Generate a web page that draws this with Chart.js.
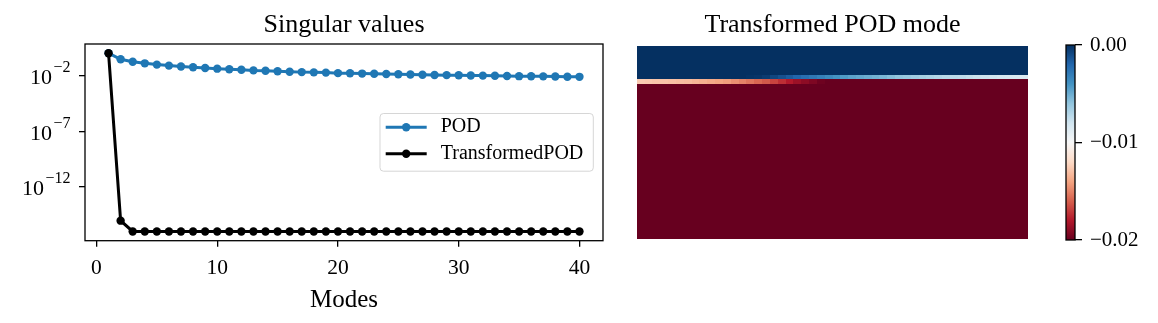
<!DOCTYPE html>
<html><head><meta charset="utf-8">
<script src="https://cdn.jsdelivr.net/npm/chart.js@4.4.1/dist/chart.umd.min.js"></script>
<style>
html,body{margin:0;padding:0;background:#fff;}
#wrap{position:relative;width:1158px;height:323px;overflow:hidden;background:#fff;}
.c{position:absolute;top:0;}
</style></head><body>
<div id="wrap">
<div class="c" style="left:0px;"><canvas id="sv" width="620" height="323"></canvas></div>
<div class="c" style="left:620px;"><canvas id="hm" width="420" height="323"></canvas></div>
<div class="c" style="left:1040px;"><canvas id="cb" width="118" height="323"></canvas></div>
</div>
<script>
// ---------------- data ----------------
const modes = [1,2,3,4,5,6,7,8,9,10,11,12,13,14,15,16,17,18,19,20,21,22,23,24,25,26,27,28,29,30,31,32,33,34,35,36,37,38,39,40];
const podValues = [1.07,0.30,0.18,0.13,0.100,0.081,0.068,0.058,0.049,0.043,0.038,0.034,0.030,0.028,0.025,0.023,0.021,0.020,0.019,0.017,
                   0.0166,0.0155,0.0148,0.0141,0.0135,0.0129,0.0123,0.0117,0.0112,0.0110,0.0105,0.0102,0.0098,0.0095,0.0091,0.0089,0.0087,0.0085,0.0081,0.0079];
const transformedValues = [1.07,8.7e-16,9.3e-17,9.3e-17,9.3e-17,9.3e-17,9.3e-17,9.3e-17,9.3e-17,9.3e-17,9.3e-17,9.3e-17,9.3e-17,9.3e-17,9.3e-17,9.3e-17,9.3e-17,9.3e-17,9.3e-17,9.3e-17,
                   9.3e-17,9.3e-17,9.3e-17,9.3e-17,9.3e-17,9.3e-17,9.3e-17,9.3e-17,9.3e-17,9.3e-17,9.3e-17,9.3e-17,9.3e-17,9.3e-17,9.3e-17,9.3e-17,9.3e-17,9.3e-17,9.3e-17,9.3e-17];
const xTickValues = [0,10,20,30,40];
const yTickValues = [1e-2,1e-7,1e-12];
const seriesLabels = ['POD','TransformedPOD'];
const leftTitle = 'Singular values';
const xAxisLabel = 'Modes';

// transformed POD mode field: mesh over x in [0,2], y in [0,1]
const meshX = [0,2];
const meshNx = 50;
const meshYEdges = [0,0.805,0.829,0.850,1.0];
const layerBottom = -0.020;
const layerRow2 = [-0.0126,-0.0127,-0.0128,-0.0129,-0.0130,-0.0131,-0.0132,-0.0134,-0.0136,-0.0138,
                   -0.0140,-0.0142,-0.0146,-0.0150,-0.0154,-0.0158,-0.0162,-0.0168,-0.0174,-0.0180,
                   -0.0186,-0.0190,-0.0194,-0.0198,-0.020,-0.020,-0.020,-0.020,-0.020,-0.020,
                   -0.020,-0.020,-0.020,-0.020,-0.020,-0.020,-0.020,-0.020,-0.020,-0.020,
                   -0.020,-0.020,-0.020,-0.020,-0.020,-0.020,-0.020,-0.020,-0.020,-0.020];
const layerRow1 = [0,0,0,0,0,0,0,0,0,0,0,0,0,0,
                   -0.0001,-0.0002,-0.0004,-0.0008,-0.0012,-0.0016,-0.0020,-0.0024,-0.0028,-0.0032,
                   -0.0036,-0.0040,-0.0043,-0.0046,-0.0048,-0.0050,-0.0052,-0.0054,-0.0057,-0.0060,
                   -0.0062,-0.0064,-0.0066,-0.0068,-0.0070,-0.0072,-0.0073,-0.0074,-0.0076,-0.0078,
                   -0.0079,-0.0080,-0.0082,-0.0083,-0.0084,-0.0085];
const layerTop = 0.000;
const fieldMin = -0.02, fieldMax = 0.0;
const cbTickValues = [-0.02,-0.01,0.0];
const rightTitle = 'Transformed POD mode';

// ---------------- style ----------------
const FONT = "'Liberation Serif','DejaVu Serif',serif";
const LINE_W = 3;
const MARK_R = 4.2;
const RDBU = [[103,0,31],[178,24,43],[214,96,77],[244,165,130],[253,219,199],[247,247,247],
              [209,229,240],[146,197,222],[67,147,195],[33,102,172],[5,48,97]];
function rdbu(t){
  t = Math.max(0, Math.min(1, t));
  const p = t*10, i = Math.min(9, Math.floor(p)), f = p - i;
  const a = RDBU[i], b = RDBU[i+1];
  return 'rgb(' + [0,1,2].map(k => Math.round(a[k] + (b[k]-a[k])*f)).join(',') + ')';
}
function valColor(v){ return rdbu((v - fieldMin)/(fieldMax - fieldMin)); }

const titlePlugin = {
  id: 'axTitle',
  afterDraw(chart, args, opts){
    if (!opts || !opts.text) return;
    const ctx = chart.ctx, a = chart.chartArea;
    ctx.save();
    ctx.font = opts.size + 'px ' + FONT;
    ctx.fillStyle = '#000';
    ctx.textAlign = 'center';
    ctx.textBaseline = 'alphabetic';
    ctx.fillText(opts.text, (a.left + a.right)/2, opts.y);
    ctx.restore();
  }
};

const svPlugin = {
  id: 'svExtras',
  afterDraw(chart){
    const ctx = chart.ctx, a = chart.chartArea;
    ctx.save();
    // frame
    ctx.strokeStyle = '#000'; ctx.lineWidth = 1.3;
    ctx.strokeRect(a.left, a.top, a.right - a.left, a.bottom - a.top);
    // y tick labels with exponents
    const ys = chart.scales.y;
    ctx.fillStyle = '#000';
    ctx.textAlign = 'right'; ctx.textBaseline = 'alphabetic';
    ys.ticks.forEach(t => {
      const py = ys.getPixelForValue(t.value);
      const e = Math.round(Math.log10(t.value));
      const expTxt = (e < 0 ? '\u2212' : '') + Math.abs(e);
      const xr = ys.right - 14.5;
      ctx.font = '16px ' + FONT;
      ctx.fillText(expTxt, xr, py - 3.4);
      const w = ctx.measureText(expTxt).width;
      ctx.font = '22px ' + FONT;
      ctx.fillText('10', xr - w - 1.5, py + 8.3);
    });
    // legend (center right)
    ctx.font = '20px ' + FONT;
    const tw = Math.max(...seriesLabels.map(s => ctx.measureText(s).width));
    const bw = 5.7 + 41 + 14 + tw + 10;
    const bh = 57.7;
    const bx = a.right - 9.7 - bw;
    const by = (a.top + a.bottom)/2 - bh/2;
    ctx.globalAlpha = 0.8;
    ctx.fillStyle = '#fff';
    ctx.strokeStyle = '#cccccc';
    ctx.lineWidth = 1;
    const r = 3.5;
    ctx.beginPath();
    ctx.moveTo(bx + r, by);
    ctx.arcTo(bx + bw, by, bx + bw, by + bh, r);
    ctx.arcTo(bx + bw, by + bh, bx, by + bh, r);
    ctx.arcTo(bx, by + bh, bx, by, r);
    ctx.arcTo(bx, by, bx + bw, by, r);
    ctx.closePath();
    ctx.fill(); ctx.stroke();
    ctx.globalAlpha = 1;
    chart.data.datasets.forEach((ds, i) => {
      const cy = by + 13.7 + i*26.6;
      const lx0 = bx + 5.7, lx1 = lx0 + 41;
      ctx.strokeStyle = ds.borderColor; ctx.lineWidth = ds.borderWidth;
      ctx.beginPath(); ctx.moveTo(lx0, cy); ctx.lineTo(lx1, cy); ctx.stroke();
      ctx.fillStyle = ds.backgroundColor;
      ctx.beginPath(); ctx.arc((lx0 + lx1)/2, cy, MARK_R, 0, Math.PI*2); ctx.fill();
      ctx.fillStyle = '#000';
      ctx.textAlign = 'left'; ctx.textBaseline = 'middle';
      ctx.fillText(ds.label, lx1 + 14, cy);
    });
    ctx.restore();
  }
};

// ---------------- left chart ----------------
new Chart(document.getElementById('sv'), {
  type: 'line',
  data: {
    datasets: [
      { label: seriesLabels[0], data: modes.map((m,i) => ({x:m, y:podValues[i]})),
        borderColor: '#1f77b4', backgroundColor: '#1f77b4', borderWidth: LINE_W,
        pointRadius: MARK_R, pointBorderWidth: 0, pointHoverRadius: MARK_R, tension: 0, order: 1 },
      { label: seriesLabels[1], data: modes.map((m,i) => ({x:m, y:transformedValues[i]})),
        borderColor: '#000000', backgroundColor: '#000000', borderWidth: LINE_W,
        pointRadius: MARK_R, pointBorderWidth: 0, pointHoverRadius: MARK_R, tension: 0, order: 0 }
    ]
  },
  options: {
    responsive: false, animation: false, devicePixelRatio: 1, events: [],
    layout: { padding: { top: 44, right: 17, left: 0, bottom: 0 } },
    plugins: {
      legend: { display: false }, tooltip: { enabled: false },
      axTitle: { text: leftTitle, size: 26, y: 31.7 }
    },
    scales: {
      x: {
        type: 'linear', min: -0.95, max: 41.95, bounds: 'data',
        afterBuildTicks: s => { s.ticks = xTickValues.map(v => ({value: v})); },
        afterFit: s => { s.height = 82.3; },
        ticks: { color: '#000', font: { family: FONT, size: 21.5 }, padding: 9, maxRotation: 0, autoSkip: false },
        grid: { drawOnChartArea: false, drawTicks: true, tickLength: 6, color: '#000', tickColor: '#000', lineWidth: 1.3 },
        border: { display: false },
        title: { display: true, text: xAxisLabel, color: '#000', font: { family: FONT, size: 25 }, padding: { top: 0, bottom: 7.6 } }
      },
      y: {
        type: 'logarithmic', min: Math.pow(10, -16.865), max: Math.pow(10, 0.856), bounds: 'data',
        afterBuildTicks: s => { s.ticks = yTickValues.map(v => ({value: v})); },
        afterFit: s => { s.width = 85; },
        ticks: { callback: () => '', autoSkip: false },
        grid: { drawOnChartArea: false, drawTicks: true, tickLength: 6, color: '#000', tickColor: '#000', lineWidth: 1.3 },
        border: { display: false }
      }
    }
  },
  plugins: [svPlugin, titlePlugin]
});

// ---------------- heatmap ----------------
const heatPlugin = {
  id: 'heat',
  beforeDatasetsDraw(chart){
    const ctx = chart.ctx, xs = chart.scales.x, ys = chart.scales.y;
    const layers = [layerBottom, layerRow2, layerRow1, layerTop];
    const dx = (meshX[1] - meshX[0]) / meshNx;
    ctx.save();
    layers.forEach((layer, r) => {
      const py0 = Math.round(ys.getPixelForValue(meshYEdges[r+1]));
      const py1 = Math.round(ys.getPixelForValue(meshYEdges[r]));
      for (let j = 0; j < meshNx; j++){
        const v = Array.isArray(layer) ? layer[j] : layer;
        const px0 = Math.round(xs.getPixelForValue(meshX[0] + j*dx));
        const px1 = Math.round(xs.getPixelForValue(meshX[0] + (j+1)*dx));
        ctx.fillStyle = valColor(v);
        ctx.fillRect(px0, py0, px1 - px0, py1 - py0);
      }
    });
    ctx.restore();
  }
};
new Chart(document.getElementById('hm'), {
  type: 'scatter',
  data: { datasets: [{ data: [], pointRadius: 0 }] },
  options: {
    responsive: false, animation: false, devicePixelRatio: 1, events: [],
    layout: { padding: { top: 46, left: 16.7, right: 11.7, bottom: 83.7 } },
    plugins: { legend: { display: false }, tooltip: { enabled: false },
      axTitle: { text: rightTitle, size: 26, y: 31.7 } },
    scales: {
      x: { type: 'linear', display: false, min: meshX[0], max: meshX[1] },
      y: { type: 'linear', display: false, min: meshYEdges[0], max: meshYEdges[meshYEdges.length-1] }
    }
  },
  plugins: [heatPlugin, titlePlugin]
});

// ---------------- colorbar ----------------
const cbPlugin = {
  id: 'cbar',
  beforeDatasetsDraw(chart){
    const ctx = chart.ctx, a = chart.chartArea, ys = chart.scales.y;
    const y0 = ys.getPixelForValue(fieldMin), y1 = ys.getPixelForValue(fieldMax);
    const g = ctx.createLinearGradient(0, y0, 0, y1);
    RDBU.forEach((c, i) => g.addColorStop(i/10, 'rgb(' + c.join(',') + ')'));
    ctx.save();
    ctx.fillStyle = g;
    ctx.fillRect(a.left, y1, a.right - a.left, y0 - y1);
    ctx.restore();
  },
  afterDraw(chart){
    const ctx = chart.ctx, a = chart.chartArea;
    ctx.save();
    ctx.strokeStyle = '#000'; ctx.lineWidth = 1.3;
    ctx.strokeRect(a.left, a.top, a.right - a.left, a.bottom - a.top);
    ctx.restore();
  }
};
new Chart(document.getElementById('cb'), {
  type: 'scatter',
  data: { datasets: [{ data: [], pointRadius: 0 }] },
  options: {
    responsive: false, animation: false, devicePixelRatio: 1, events: [],
    layout: { padding: { top: 45, left: 26, right: 0, bottom: 83 } },
    plugins: { legend: { display: false }, tooltip: { enabled: false } },
    scales: {
      x: { type: 'linear', display: false, min: 0, max: 1 },
      y: {
        type: 'linear', position: 'right', min: fieldMin, max: fieldMax, bounds: 'data',
        afterBuildTicks: s => { s.ticks = cbTickValues.map(v => ({value: v})); },
        afterFit: s => { s.width = 83; },
        ticks: { color: '#000', font: { family: FONT, size: 21 }, padding: 8, autoSkip: false,
                 callback: v => (v < 0 ? '\u2212' : '') + Math.abs(v).toFixed(2) },
        grid: { drawOnChartArea: false, drawTicks: true, tickLength: 7, color: '#000', tickColor: '#000', lineWidth: 1.3 },
        border: { display: false }
      }
    }
  },
  plugins: [cbPlugin]
});
</script>
</body></html>
